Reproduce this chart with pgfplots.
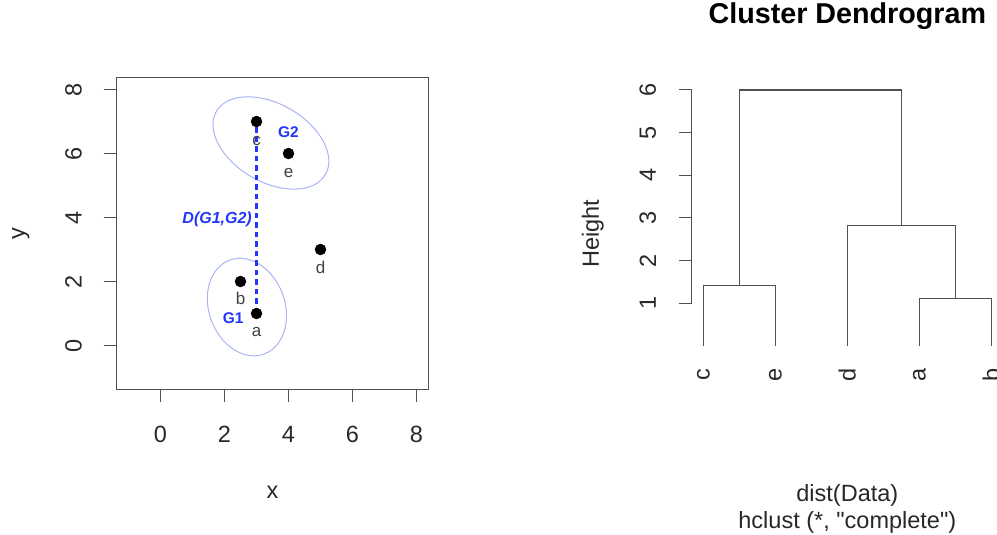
\documentclass[border=0pt]{standalone}
\usepackage{pgfplots}
\pgfplotsset{compat=1.18}
\usepackage{pgfplotstable}
\usepackage{fontspec}
\setmainfont{Liberation Sans}[Ligatures=TeXOff]

\definecolor{rblue}{RGB}{35,55,250}
\definecolor{ellcol}{RGB}{170,180,248}
\definecolor{ink}{RGB}{40,40,40}
\definecolor{frame}{RGB}{80,80,80}

\newcommand\basefont{\fontsize{23.5}{27}\selectfont}

% the five observations
\pgfplotstableread{
x   y  lab
3   1  a
2.5 2  b
3   7  c
5   3  d
4   6  e
}\points

\tikzset{dendro/.style={frame, line width=1.45pt, no marks}}

\begin{document}
\begin{tikzpicture}
\path[use as bounding box] (0pt,0pt) rectangle (997pt,-535pt);

% ---------- scatter of the data ----------
\begin{axis}[
  at={(117pt,-389pt)}, anchor=south west,
  scale only axis, width=311pt, height=311pt,
  xmin=-1.36, xmax=8.36, ymin=-1.36, ymax=8.36,
  xtick={0,2,4,6,8}, ytick={0,2,4,6,8},
  tick pos=left, tick align=outside, major tick length=13pt,
  axis line style={frame, line width=1pt},
  tick style={frame, line width=1pt},
  /pgf/number format/assume math mode=true,
  ticklabel style={font=\basefont, text=ink},
  xticklabel style={anchor=center}, xticklabel shift=32pt,
  yticklabel style={anchor=center, rotate=90}, yticklabel shift=30.5pt,
  xlabel={x}, ylabel={y},
  label style={font=\basefont, text=ink},
  xlabel style={at={(axis description cs:0.5,-0.331)}, anchor=center},
  ylabel style={at={(axis description cs:-0.309,0.5)}, anchor=center},
]
\draw[ellcol, line width=1pt, rotate around={-30:(axis cs:3.45,6.33)}]
  (axis cs:3.45,6.33) ellipse [x radius=63pt, y radius=39pt];
\draw[ellcol, line width=1pt, rotate around={110:(axis cs:2.70,1.20)}]
  (axis cs:2.70,1.20) ellipse [x radius=50pt, y radius=38pt];

\addplot[rblue, line width=2.2pt, dash pattern=on 5.5pt off 4pt]
  coordinates {(3,1) (3,7)};

\addplot[only marks, mark=*, mark size=5.5pt, black,
  nodes near coords, point meta=explicit symbolic,
  nodes near coords style={anchor=base, yshift=-23.5pt, text=black!75,
    font=\fontsize{17}{20}\selectfont}]
  table[x=x, y=y, meta=lab] {\points};

\node[rblue, font=\bfseries\fontsize{15.5}{18}\selectfont] at (axis cs:4.0,6.66) {G2};
\node[rblue, font=\bfseries\fontsize{15.5}{18}\selectfont] at (axis cs:2.27,0.86) {G1};
\node[rblue, font=\bfseries\itshape\fontsize{16}{18}\selectfont, anchor=east, inner sep=0pt]
  at (axis cs:2.86,3.95) {D(G1,G2)};
\end{axis}

% ---------- dendrogram ----------
\begin{axis}[
  at={(691.8pt,-388pt)}, anchor=south west,
  scale only axis, width=311.04pt, height=309pt,
  xmin=0.84, xmax=5.16, ymin=-0.984, ymax=6.257,
  clip=false,
  axis line style={draw=none},
  tick pos=left, tick align=outside, major tick length=13pt,
  ytick={1,2,3,4,5,6},
  ytick style={frame, line width=1pt},
  xtick={1,2,3,4,5}, xticklabels={c,e,d,a,b},
  xtick style={draw=none},
  /pgf/number format/assume math mode=true,
  ticklabel style={font=\basefont, text=ink},
  xticklabel style={anchor=center, rotate=90}, xticklabel shift=-26pt,
  yticklabel style={anchor=center, rotate=90}, yticklabel shift=31pt,
  title={Cluster Dendrogram},
  title style={at={(axis description cs:0.5,1.1845)}, anchor=center,
    font=\bfseries\fontsize{28.7}{32}\selectfont},
  xlabel={dist(Data)\\hclust (*, "complete")},
  ylabel={Height},
  label style={font=\basefont, text=ink},
  xlabel style={align=center, at={(axis description cs:0.5,-0.39)}, anchor=center},
  ylabel style={at={(axis description cs:-0.318,0.5)}, anchor=center},
]
\addplot[dendro] coordinates {(1,0) (1,1.414) (2,1.414) (2,0)};
\addplot[dendro] coordinates {(4,0) (4,1.118) (5,1.118) (5,0)};
\addplot[dendro] coordinates {(3,0) (3,2.828) (4.5,2.828) (4.5,1.118)};
\addplot[dendro] coordinates {(1.5,1.414) (1.5,6) (3.75,6) (3.75,2.828)};
\draw[frame, line width=1pt] (axis cs:0.84,1) -- (axis cs:0.84,6);
\end{axis}
\end{tikzpicture}
\end{document}
